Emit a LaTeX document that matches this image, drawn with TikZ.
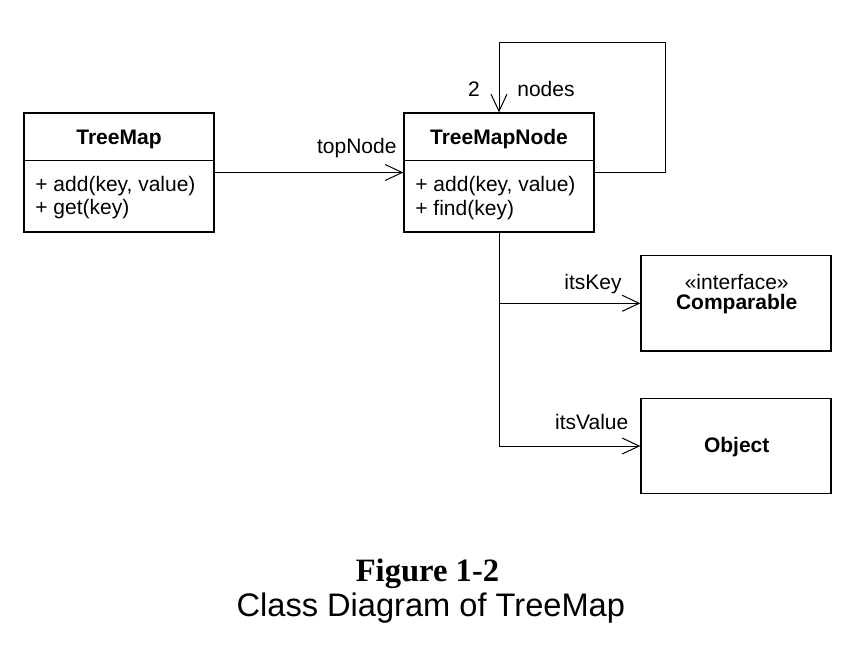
\documentclass[tikz,border=0pt]{standalone}
\usepackage{fontspec}
\setmainfont{Liberation Sans}
\newfontfamily\capserif{Liberation Serif}
\usetikzlibrary{arrows.meta}
\tikzset{every picture/.style={x=0.5pt,y=-0.5pt}}
\tikzset{cls/.style={draw,line width=0.65pt,minimum width=95pt,minimum height=59.5pt,inner sep=0pt}}
\tikzset{iface/.style={cls,minimum height=47.75pt}}
\tikzset{edge/.style={line width=0.5pt,-{Straight Barb[length=8.5pt,width=8pt]}}}
\tikzset{lbl/.style={font=\fontsize{10.5}{12}\selectfont,inner sep=0pt,anchor=base}}
\tikzset{clsname/.style={lbl,font=\fontsize{10.5}{12}\selectfont\bfseries}}
\tikzset{op/.style={lbl,anchor=base west}}
\tikzset{figcap/.style={inner sep=0pt,anchor=base,font=\fontsize{16.3}{18}\selectfont}}

\begin{document}
\begin{tikzpicture}
\useasboundingbox (0,0) rectangle (864,654);

\node [cls] (tm) at (119,172.5) {};
\node [cls] (tmn) at (499,172.5) {};
\node [iface] (cmp) at (736,303.3) {};
\node [iface] (obj) at (736,446) {};

\draw [cls] ([yshift=-24pt]tm.north west) -- ([yshift=-24pt]tm.north east);
\draw [cls] ([yshift=-24pt]tmn.north west) -- ([yshift=-24pt]tmn.north east);

\node [clsname] (tmt) at (119,144) {TreeMap};
\node [op] (tm1) at (35,191) {+ add(key, value)};
\node [op] (tm2) at (35,214.5) {+ get(key)};

\node [clsname] (tmnt) at (499,144.5) {TreeMapNode};
\node [op] (tmn1) at (415,191.5) {+ add(key, value)};
\node [op] (tmn2) at (415,215) {+ find(key)};

\node [lbl] (cmps) at (736.7,289.3) {«interface»};
\node [clsname] (cmpt) at (736.7,309.3) {Comparable};
\node [clsname] (objt) at (736.7,452) {Object};

\coordinate (l1) at (665,42);

\draw [edge] (tm.east) -- (tmn.west);
\draw [edge] (tmn.east) -| (l1) -| (tmn.north);
\draw [edge] (tmn.south) |- (cmp.west);
\draw [edge] (tmn.south) |- (obj.west);

\node [lbl] (top) at (356.8,153.3) {topNode};
\node [lbl] (mul) at (474,96) {2};
\node [lbl] (nds) at (546,96) {nodes};
\node [lbl] (key) at (593,289) {itsKey};
\node [lbl] (val) at (591.7,429.3) {itsValue};

\node [figcap,font=\fontsize{16.3}{18}\selectfont\capserif\bfseries] (fig) at (427.5,581.7) {Figure 1-2};
\node [figcap] (ttl) at (430.8,616.7) {Class Diagram of TreeMap};
\end{tikzpicture}
\end{document}
